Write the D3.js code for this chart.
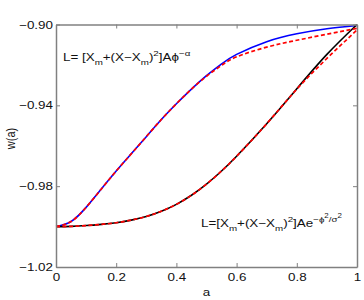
<!DOCTYPE html>
<html>
<head>
<meta charset="utf-8">
<script src="https://cdn.jsdelivr.net/npm/d3@7"></script>
<style>
  body { margin: 0; background: #fff; }
  svg text { font-family: "Liberation Sans", Arial, sans-serif; fill: #111; }
</style>
</head>
<body>
<svg width="364" height="300"></svg>
<script>
// values
var aValues    = [0, 0.05, 0.1, 0.15, 0.2, 0.25, 0.3, 0.35, 0.4, 0.45, 0.5, 0.55, 0.6, 0.7, 0.8, 0.9, 1.0];
var powerExact = [-1.000, -0.9975, -0.9905, -0.9815, -0.9725, -0.964, -0.9555, -0.947, -0.9392, -0.932, -0.9253, -0.9195, -0.9148, -0.9085, -0.9046, -0.9021, -0.9005];
var powerFit   = [-1.000, -0.9975, -0.9905, -0.9815, -0.9725, -0.964, -0.9555, -0.947, -0.9392, -0.932, -0.9256, -0.9202, -0.9160, -0.9112, -0.9078, -0.9048, -0.9019];
var gaussExact = [-1.000, -0.9999, -0.9995, -0.9989, -0.9981, -0.9968, -0.995, -0.9924, -0.989, -0.9845, -0.979, -0.9725, -0.9652, -0.9491, -0.9318, -0.9148, -0.900];
var gaussFit   = [-1.000, -0.9999, -0.9995, -0.9989, -0.9981, -0.9968, -0.995, -0.9924, -0.989, -0.9845, -0.979, -0.9725, -0.9652, -0.9491, -0.932, -0.9168, -0.9027];

var xTicks = [0, 0.2, 0.4, 0.6, 0.8, 1];
var xTickLabels = ["0", "0.2", "0.4", "0.6", "0.8", "1"];
var yTicks = [-0.90, -0.94, -0.98, -1.02];
var yTickLabels = ["\u22120.90", "\u22120.94", "\u22120.98", "\u22121.02"];

function main(){
    var svg = d3.select("svg"),
        margin = {top: 24.5, right: 7, bottom: 33, left: 56},
        width = +svg.attr("width") - margin.left - margin.right,
        height = +svg.attr("height") - margin.top - margin.bottom;

    // the original figure was stretched sideways, so glyphs are wider than tall
    var stretch = 1.22, fs = 11;

    var xScale = d3.scaleLinear().domain([0, 1]).range([0, width]);
    var yScale = d3.scaleLinear().domain([-1.02, -0.90]).range([height, 0]);

    var g = svg.append("g").attr("transform", "translate(" + margin.left + "," + margin.top + ")");

    // curves
    var line = d3.line()
        .x(function(d){ return xScale(d[0]); })
        .y(function(d){ return yScale(d[1]); })
        .curve(d3.curveNatural);

    function pairs(ys){ return aValues.map(function(a, i){ return [a, ys[i]]; }); }

    g.append("path").datum(pairs(powerExact))
        .attr("fill", "none").attr("stroke", "#0000ff").attr("stroke-width", 1.6).attr("d", line);
    g.append("path").datum(pairs(gaussExact))
        .attr("fill", "none").attr("stroke", "#000").attr("stroke-width", 1.6).attr("d", line);
    g.append("path").datum(pairs(powerFit))
        .attr("fill", "none").attr("stroke", "#ff0000").attr("stroke-width", 1.7)
        .attr("stroke-dasharray", "4,2.5").attr("d", line);
    g.append("path").datum(pairs(gaussFit))
        .attr("fill", "none").attr("stroke", "#ff0000").attr("stroke-width", 1.7)
        .attr("stroke-dasharray", "4,2.5").attr("d", line);

    // axes, ticks pointing inward like matlab
    var axColor = "#808080";
    var xAxis = g.append("g").attr("transform", "translate(0," + height + ")")
        .call(d3.axisBottom(xScale).tickValues(xTicks).tickSizeInner(-4).tickSizeOuter(0).tickPadding(6)
            .tickFormat(function(d, i){ return xTickLabels[i]; }));
    var yAxis = g.append("g")
        .call(d3.axisLeft(yScale).tickValues(yTicks).tickSizeInner(-4).tickSizeOuter(0).tickPadding(2.5)
            .tickFormat(function(d, i){ return yTickLabels[i]; }));
    var topAxis = g.append("g")
        .call(d3.axisTop(xScale).tickValues(xTicks).tickSizeInner(-4).tickSizeOuter(0).tickFormat(""));
    var rightAxis = g.append("g").attr("transform", "translate(" + width + ",0)")
        .call(d3.axisRight(yScale).tickValues(yTicks).tickSizeInner(-4).tickSizeOuter(0).tickFormat(""));

    [xAxis, yAxis, topAxis, rightAxis].forEach(function(ax){
        ax.select(".domain").attr("stroke", axColor).attr("stroke-width", 1.5);
        ax.selectAll(".tick line").attr("stroke", axColor);
        ax.selectAll("text").attr("font-size", fs).attr("fill", "#111")
            .attr("font-family", "Liberation Sans, Arial, sans-serif")
            .attr("transform", "scale(" + stretch + ",1)");
    });

    // axis titles
    g.append("text").attr("transform", "translate(" + (width / 2) + "," + (height + 29) + ") scale(" + stretch + ",1)")
        .attr("text-anchor", "middle").attr("font-size", fs).text("a");
    g.append("text").attr("transform", "translate(" + (-41) + "," + (138.5 - margin.top) + ") rotate(-90) scale(1," + stretch + ")")
        .attr("text-anchor", "middle").attr("font-size", fs).text("w(a)");

    // formula labels, built from pieces (dy shifts for sub/superscripts)
    var off = {"0": 0, "sub": 4, "sup": -5, "sup2": -9};
    function richText(x, y, parts){
        var t = g.append("text")
            .attr("transform", "translate(" + x + "," + y + ") scale(" + stretch + ",1)")
            .attr("font-size", fs);
        var level = 0;
        parts.forEach(function(p){
            var target = p[1] || 0;
            t.append("tspan").attr("dy", off[target] - off[level])
                .attr("font-size", target === 0 ? fs : (target === "sup2" ? 6.5 : 8))
                .text(p[0]);
            level = target;
        });
        return t;
    }

    richText(7, 36.5, [["L= [X"], ["m", "sub"], ["+(X\u2212X"], ["m", "sub"], [")"], ["2", "sup"], ["]A\u03d5"], ["\u2212\u03b1", "sup"]]);
    richText(145, 202, [["L=[X"], ["m", "sub"], ["+(X\u2212X"], ["m", "sub"], [")"], ["2", "sup"], ["]Ae"],
        ["\u2212\u03d5", "sup"], ["2", "sup2"], ["/\u03c3", "sup"], ["2", "sup2"]]);
}
main();
</script>
</body>
</html>
